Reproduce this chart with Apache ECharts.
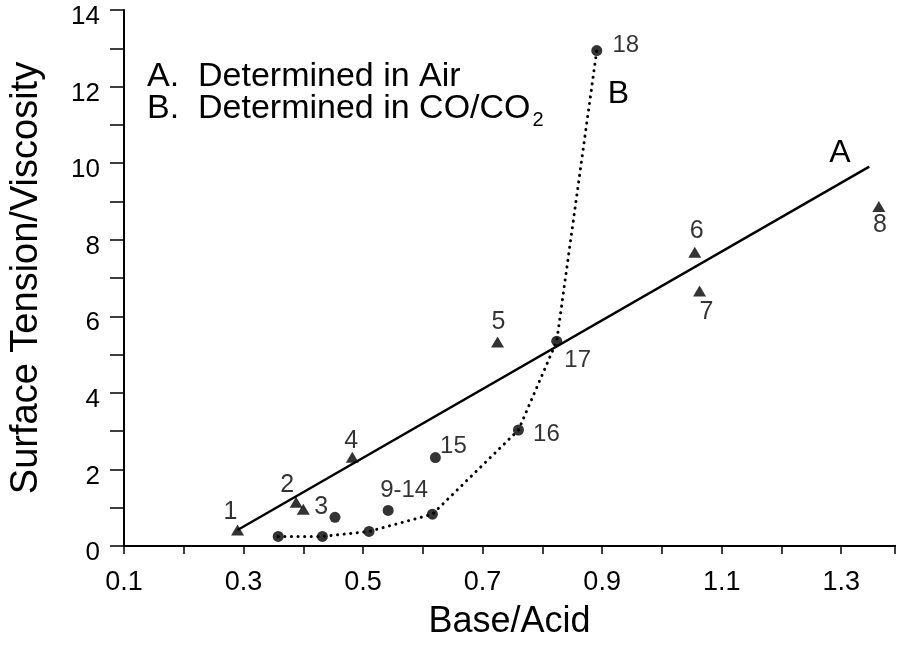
<!DOCTYPE html>
<html><head><meta charset="utf-8">
<script src="https://cdn.jsdelivr.net/npm/echarts@6/dist/echarts.min.js"></script>
<style>html,body{margin:0;padding:0;background:#fff}#c{width:898px;height:645px}</style>
</head><body><div id="c"></div>
<script>
// Series A: determined in air (triangles)
const airX = [0.29, 0.388, 0.40, 0.482, 0.725, 1.055, 1.063, 1.363];
const airY = [0.42, 1.14, 0.96, 2.32, 5.33, 7.67, 6.66, 8.87];
const airLabels = ['1', '2', '3', '4', '5', '6', '7', '8'];
// Series B: determined in CO/CO2 (circles)
const coX = [0.358, 0.432, 0.453, 0.51, 0.542, 0.616, 0.621, 0.76, 0.824, 0.891];
const coY = [0.25, 0.25, 0.75, 0.38, 0.93, 0.83, 2.31, 3.03, 5.35, 12.94];
const coLabels = ['', '', '', '', '9-14', '', '15', '16', '17', '18'];
// Line A (solid trend) endpoints
const lineAX = [0.29, 1.347];
const lineAY = [0.42, 9.91];
// Line B (dotted) through selected CO/CO2 points
const lineBX = [0.358, 0.432, 0.51, 0.616, 0.76, 0.824, 0.891];
const lineBY = [0.25, 0.25, 0.38, 0.83, 3.03, 5.35, 12.94];
const xTicks = ['0.1', '0.3', '0.5', '0.7', '0.9', '1.1', '1.3'];
const yTicks = ['0', '2', '4', '6', '8', '10', '12', '14'];

const FONT = 'Liberation Sans, Arial, Helvetica, sans-serif';
const airOffsets = [[-7,-18],[-9,-17],[18,-2],[-1,-16],[1,-20],[2,-21],[7,21],[1,19]];
const coOffsets = [[0,0],[0,0],[0,0],[0,0],[16,-20],[0,0],[18,-11],[28,4],[21,19],[29,-5]];

const chart = echarts.init(document.getElementById('c'));
const axisLineStyle = { color: '#000', width: 2 };

function mkPts(xs, ys) { return xs.map((x, i) => [x, ys[i]]); }
const lblBase = { color: '#000', textBorderWidth: 0, fontFamily: FONT, position: 'inside' };

const airData = mkPts(airX, airY).map((p, i) => ({
  value: p,
  label: Object.assign({}, lblBase, { show: true, formatter: airLabels[i], offset: airOffsets[i], fontSize: 25 })
}));
const coData = mkPts(coX, coY).map((p, i) => ({
  value: p,
  label: Object.assign({}, lblBase, { show: coLabels[i] !== '', formatter: coLabels[i], offset: coOffsets[i], fontSize: 24 })
}));

// measure text to attach subscript
const cv = document.createElement('canvas').getContext('2d');
cv.font = '34px Liberation Sans';
const bText = 'B.  Determined in CO/CO';
const bW = cv.measureText(bText).width;

chart.setOption({
  animation: false,
  backgroundColor: '#fff',
  textStyle: { fontFamily: FONT, color: '#000' },
  grid: { left: 124, right: 0, top: 10, bottom: 97 },
  xAxis: [{
    type: 'value', min: 0.1, max: 1.39, interval: 0.1,
    axisLine: { onZero: false, lineStyle: axisLineStyle },
    axisTick: { length: 8, lineStyle: { color: '#000', width: 1.5 } },
    splitLine: { show: false },
    axisLabel: {
      margin: 23, fontSize: 27, color: '#000', fontFamily: FONT,
      formatter: v => { const s = v.toFixed(1); return xTicks.indexOf(s) >= 0 && Math.abs(v - parseFloat(s)) < 1e-6 ? s : ''; }
    },
    name: 'Base/Acid', nameLocation: 'middle', nameGap: 58,
    nameTextStyle: { fontSize: 36, color: '#000', fontFamily: FONT }
  }, {
    type: 'value', position: 'top', min: 0.1, max: 1.39,
    axisLine: { show: true, lineStyle: axisLineStyle },
    axisTick: { show: false }, axisLabel: { show: false }, splitLine: { show: false }
  }],
  yAxis: {
    type: 'value', min: 0, max: 14, interval: 1,
    axisLine: { show: true, onZero: false, lineStyle: axisLineStyle },
    axisTick: { show: true, length: 14, lineStyle: { color: '#000', width: 1.5 } },
    splitLine: { show: false },
    axisLabel: {
      margin: 24, fontSize: 26, color: '#000', fontFamily: FONT,
      verticalAlign: 'top', lineHeight: 14,
      formatter: v => yTicks.indexOf(String(v)) >= 0 ? String(v) : ''
    },
    name: 'Surface Tension/Viscosity', nameLocation: 'middle', nameGap: 78,
    nameTextStyle: { fontSize: 38, color: '#000', fontFamily: FONT }
  },
  graphic: [
    { type: 'text', left: 147, top: 60, style: { text: 'A.  Determined in Air', font: '34px Liberation Sans', fill: '#000' } },
    { type: 'text', left: 147, top: 92, style: { text: bText, font: '34px Liberation Sans', fill: '#000' } },
    { type: 'text', left: 147 + bW + 2, top: 110, style: { text: '2', font: '20px Liberation Sans', fill: '#000' } }
  ],
  series: [
    {
      name: 'A', type: 'line', data: mkPts(lineAX, lineAY), symbol: 'none', silent: true,
      lineStyle: { color: '#000', width: 2.4, type: 'solid' },
      endLabel: { show: true, formatter: 'A', fontSize: 32, color: '#000', fontFamily: FONT, distance: 0, offset: [-40, -13] }
    },
    {
      name: 'B', type: 'line', data: mkPts(lineBX, lineBY), symbol: 'none', silent: true,
      lineStyle: { color: '#000', width: 3, type: [0.1, 6.5], cap: 'round' },
      endLabel: { show: true, formatter: 'B', fontSize: 32, color: '#000', fontFamily: FONT, distance: 0, offset: [11, 44] }
    },
    {
      name: 'Air', type: 'scatter', data: airData, symbol: 'triangle', symbolSize: [13, 11],
      itemStyle: { color: '#000' },
      label: { fontSize: 25, color: '#000', fontFamily: FONT, textBorderWidth: 0 }
    },
    {
      name: 'CO/CO2', type: 'scatter', data: coData, symbol: 'circle', symbolSize: 11,
      itemStyle: { color: '#000' },
      label: { fontSize: 24, color: '#000', fontFamily: FONT, textBorderWidth: 0 }
    }
  ]
});
</script></body></html>
